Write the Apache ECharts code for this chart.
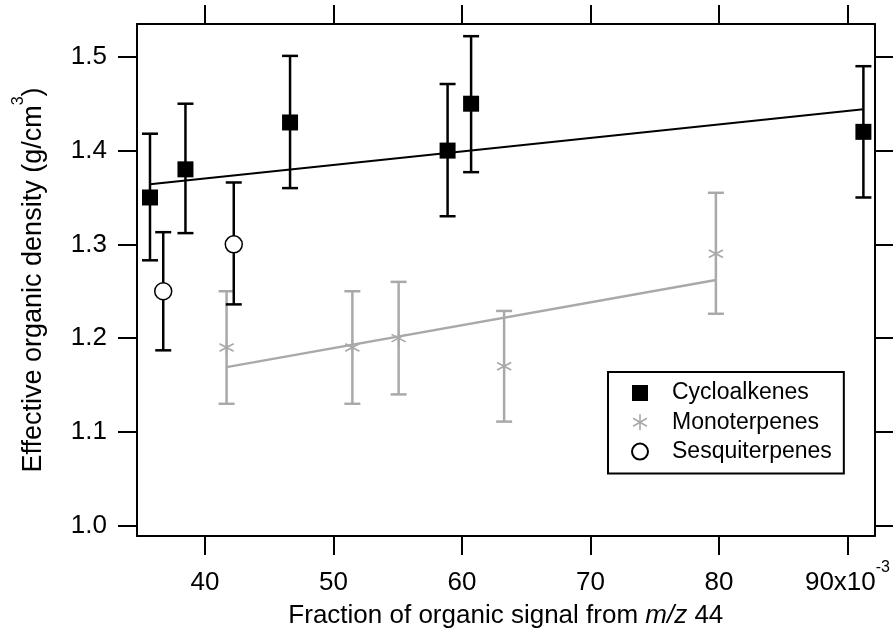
<!DOCTYPE html>
<html><head><meta charset="utf-8">
<script src="https://cdn.jsdelivr.net/npm/echarts@6/dist/echarts.min.js"></script>
<style>html,body{margin:0;padding:0;background:#fff}#c{width:893px;height:634px}</style>
</head><body><div id="c"></div><script>
// ---- data ----
const xTicks = [40, 50, 60, 70, 80, 90];
const yTicks = [1.0, 1.1, 1.2, 1.3, 1.4, 1.5];
const cycloX  = [35.72, 38.48, 46.62, 58.88, 60.71, 91.24];
const cycloY  = [1.35, 1.38, 1.43, 1.40, 1.45, 1.42];
const cycloLo = [1.283, 1.312, 1.36, 1.33, 1.377, 1.35];
const cycloHi = [1.418, 1.450, 1.501, 1.471, 1.522, 1.490];
const monoX  = [41.68, 51.47, 55.07, 63.28, 79.76];
const monoY  = [1.19, 1.19, 1.20, 1.17, 1.29];
const monoLo = [1.13, 1.13, 1.14, 1.111, 1.226];
const monoHi = [1.25, 1.25, 1.26, 1.229, 1.355];
const sesqX  = [36.75, 42.24];
const sesqY  = [1.25, 1.30];
const sesqLo = [1.187, 1.236];
const sesqHi = [1.313, 1.366];
const cycloFitX = [35.72, 91.24], cycloFitY = [1.364, 1.444];
const monoFitX  = [41.68, 79.76], monoFitY  = [1.169, 1.262];

const FONT = '"Liberation Sans", Arial, Helvetica, sans-serif';
const GRAY = '#a9a9a9';
const ASTER = 'path://M45,0 L55,0 L55,100 L45,100 Z M4.2,29.33 L9.2,20.67 L95.8,70.67 L90.8,79.33 Z M4.2,70.67 L90.8,20.67 L95.8,29.33 L9.2,79.33 Z';

const zip2 = (a, b) => a.map((v, i) => [v, b[i]]);
const zip3 = (a, b, c) => a.map((v, i) => [v, b[i], c[i]]);

function errItem(color) {
  return function (params, api) {
    const x = api.value(0), lo = api.value(1), hi = api.value(2);
    const p1 = api.coord([x, lo]), p2 = api.coord([x, hi]);
    const w = 8;
    const st = { stroke: color, lineWidth: 2.5 };
    return { type: 'group', children: [
      { type: 'line', shape: { x1: p1[0], y1: p1[1], x2: p2[0], y2: p2[1] }, style: st },
      { type: 'line', shape: { x1: p1[0] - w, y1: p1[1], x2: p1[0] + w, y2: p1[1] }, style: st },
      { type: 'line', shape: { x1: p2[0] - w, y1: p2[1], x2: p2[0] + w, y2: p2[1] }, style: st }
    ]};
  };
}

const X_MIN = 34.709, X_MAX = 92.115, Y_MIN = 0.989, Y_MAX = 1.535;
const axisLineStyle = { show: true, lineStyle: { color: '#000', width: 2 } };
const tickStyle = { show: true, inside: false, length: 19, lineStyle: { color: '#000', width: 2 } };

const chart = echarts.init(document.getElementById('c'), null, { renderer: 'canvas' });
chart.setOption({
  animation: false,
  backgroundColor: '#fff',
  textStyle: { fontFamily: FONT, color: '#000' },
  grid: { left: 137, right: 15, top: 24, bottom: 98, containLabel: false },
  xAxis: [
    { type: 'value', position: 'bottom', min: X_MIN, max: X_MAX,
      axisLine: axisLineStyle, splitLine: { show: false },
      axisTick: Object.assign({ customValues: xTicks }, tickStyle),
      axisLabel: { customValues: xTicks, margin: 23.5, color: '#000', fontFamily: FONT,
        formatter: v => v === 90 ? '{n|90x10}{s|-3}' : '{n|' + v + '}',
        rich: { n: { fontSize: 26, fontFamily: FONT, color: '#000', lineHeight: 46, verticalAlign: 'middle' },
                s: { fontSize: 16, fontFamily: FONT, color: '#000', lineHeight: 16, verticalAlign: 'top' } } },
      name: '{n|Fraction of organic signal from }{i|m/z}{n| 44}', nameLocation: 'middle', nameGap: 67,
      nameTextStyle: { rich: { n: { fontSize: 26, fontFamily: FONT, color: '#000', lineHeight: 26 },
                               i: { fontSize: 26, fontFamily: FONT, color: '#000', lineHeight: 26, fontStyle: 'italic' } } } },
    { type: 'value', position: 'top', min: X_MIN, max: X_MAX,
      axisLine: axisLineStyle, splitLine: { show: false },
      axisTick: Object.assign({ customValues: xTicks }, tickStyle),
      axisLabel: { show: false } }
  ],
  yAxis: [
    { type: 'value', position: 'left', min: Y_MIN, max: Y_MAX,
      axisLine: axisLineStyle, splitLine: { show: false },
      axisTick: Object.assign({ customValues: yTicks }, tickStyle),
      axisLabel: { customValues: yTicks, margin: 30, fontSize: 26, color: '#000', fontFamily: FONT,
        formatter: v => v.toFixed(1) },
      name: '{n|Effective organic density (g/cm}{s|3}{n|)}', nameLocation: 'middle', nameGap: 81,
      nameTextStyle: { rich: { n: { fontSize: 27, fontFamily: FONT, color: '#000', lineHeight: 45, verticalAlign: 'middle' },
                               s: { fontSize: 16, fontFamily: FONT, color: '#000', lineHeight: 16, verticalAlign: 'top' } } } },
    { type: 'value', position: 'right', min: Y_MIN, max: Y_MAX,
      axisLine: axisLineStyle, splitLine: { show: false },
      axisTick: Object.assign({ customValues: yTicks }, tickStyle),
      axisLabel: { show: false } }
  ],
  legend: {
    data: ['Cycloalkenes', 'Monoterpenes', 'Sesquiterpenes'],
    orient: 'vertical', left: 608, top: 372, itemWidth: 16, itemHeight: 16, itemGap: 5.3,
    padding: [9, 12, 10, 23], borderColor: '#000', borderWidth: 2, borderRadius: 0, backgroundColor: '#fff',
    selectedMode: false,
    textStyle: { fontSize: 23, fontFamily: FONT, color: '#000', lineHeight: 24, padding: [0, 0, 0, 19] }
  },
  series: [
    { name: 'cycloFit', type: 'line', data: zip2(cycloFitX, cycloFitY), symbol: 'none', silent: true,
      lineStyle: { color: '#000', width: 2 }, z: 2 },
    { name: 'monoFit', type: 'line', data: zip2(monoFitX, monoFitY), symbol: 'none', silent: true,
      lineStyle: { color: GRAY, width: 2.3 }, z: 2 },
    { name: 'monoErr', type: 'custom', renderItem: errItem(GRAY), data: zip3(monoX, monoLo, monoHi),
      encode: { x: 0, y: [1, 2] }, silent: true, z: 3 },
    { name: 'cycloErr', type: 'custom', renderItem: errItem('#000'), data: zip3(cycloX, cycloLo, cycloHi),
      encode: { x: 0, y: [1, 2] }, silent: true, z: 3 },
    { name: 'sesqErr', type: 'custom', renderItem: errItem('#000'), data: zip3(sesqX, sesqLo, sesqHi),
      encode: { x: 0, y: [1, 2] }, silent: true, z: 3 },
    { name: 'Cycloalkenes', type: 'scatter', data: zip2(cycloX, cycloY), symbol: 'rect', symbolSize: 16,
      itemStyle: { color: '#000', opacity: 1 }, silent: true, z: 5 },
    { name: 'Monoterpenes', type: 'scatter', data: zip2(monoX, monoY), symbol: ASTER, symbolSize: 15,
      itemStyle: { color: GRAY, opacity: 1 }, silent: true, z: 5 },
    { name: 'Sesquiterpenes', type: 'scatter', data: zip2(sesqX, sesqY), symbol: 'circle', symbolSize: 17,
      itemStyle: { color: '#fff', borderColor: '#000', borderWidth: 1.5, opacity: 1 }, silent: true, z: 5 }
  ]
});
</script></body></html>
